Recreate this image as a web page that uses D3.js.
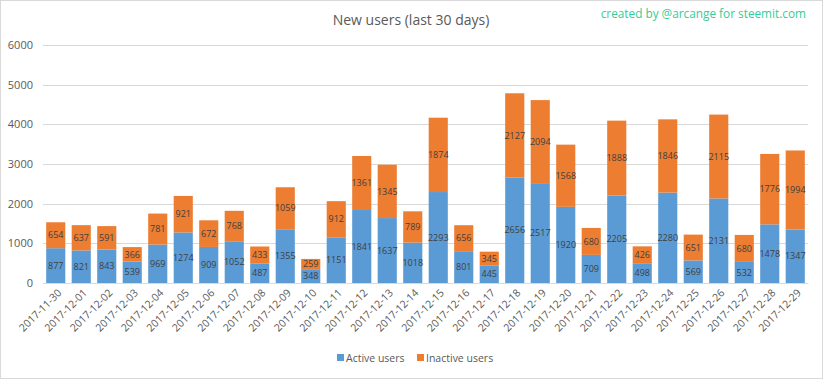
<!DOCTYPE html>
<html><head><meta charset="utf-8">
<script src="https://cdn.jsdelivr.net/npm/d3@7"></script>
<style>body{margin:0;background:#fff;font-family:"Open Sans",Calibri,sans-serif;}</style>
</head><body><svg id="c" width="823" height="379"></svg>
<script>
const dates = ["2017-11-30","2017-12-01","2017-12-02","2017-12-03","2017-12-04","2017-12-05","2017-12-06","2017-12-07","2017-12-08","2017-12-09","2017-12-10","2017-12-11","2017-12-12","2017-12-13","2017-12-14","2017-12-15","2017-12-16","2017-12-17","2017-12-18","2017-12-19","2017-12-20","2017-12-21","2017-12-22","2017-12-23","2017-12-24","2017-12-25","2017-12-26","2017-12-27","2017-12-28","2017-12-29"];
const active = [877,821,843,539,969,1274,909,1052,487,1355,348,1151,1841,1637,1018,2293,801,445,2656,2517,1920,709,2205,498,2280,569,2131,532,1478,1347];
const inactive = [654,637,591,366,781,921,672,768,433,1059,259,912,1361,1345,789,1874,656,345,2127,2094,1568,680,1888,426,1846,651,2115,680,1776,1994];
const yTicks = [0,1000,2000,3000,4000,5000,6000];
const seriesNames = ["Active users","Inactive users"];
const colors = ["#5b9bd5","#ed7d31"];

const svg = d3.select("#c");
svg.append("rect").attr("x",0.5).attr("y",0.5).attr("width",822).attr("height",378).attr("fill","#fff").attr("stroke","#d9d9d9");

const x = d3.scaleBand().domain(dates).range([43,808]).paddingInner(0.25).paddingOuter(0.125);
const y = d3.scaleLinear().domain([0,6000]).range([283,45]);

svg.append("g").selectAll("line").data(yTicks).join("line")
  .attr("x1",43).attr("x2",808).attr("y1",d=>Math.round(y(d))+0.5).attr("y2",d=>Math.round(y(d))+0.5)
  .attr("stroke","#d9d9d9").attr("stroke-width",1);

const yAxis = d3.axisLeft(y).tickValues(yTicks).tickSize(0).tickPadding(0).tickFormat(d3.format("d"));
const ya = svg.append("g").attr("transform","translate(33,0)").call(yAxis);
ya.select(".domain").remove();
ya.selectAll("text").attr("fill","#595959").style("font-size","11px").style("font-family","'Open Sans',sans-serif");

const data = dates.map((d,i)=>({date:d, a:active[i], b:inactive[i]}));
const stack = d3.stack().keys(["a","b"])(data);

const g = svg.append("g");
stack.forEach((s,si)=>{
  g.append("g").selectAll("rect").data(s).join("rect")
    .attr("x",d=>x(d.data.date)).attr("width",x.bandwidth())
    .attr("y",d=>y(d[1])).attr("height",d=>y(d[0])-y(d[1]))
    .attr("fill",colors[si]);
  g.append("g").selectAll("text").data(s).join("text")
    .attr("x",d=>x(d.data.date)+x.bandwidth()/2)
    .attr("y",d=>(y(d[0])+y(d[1]))/2)
    .attr("dy","0.35em").attr("text-anchor","middle")
    .attr("fill","#404040").style("font-size","9px").style("font-family","'Open Sans',sans-serif")
    .text(d=>d[1]-d[0]);
});

const xAxis = d3.axisBottom(x).tickSize(0).tickPadding(0);
const xa = svg.append("g").attr("transform","translate(0,283)").call(xAxis);
xa.select(".domain").attr("stroke","#d9d9d9");
xa.selectAll("text")
  .attr("fill","#595959").style("font-size","10.5px").style("font-family","'Open Sans',sans-serif")
  .attr("text-anchor","end").attr("dy","0.35em")
  .attr("transform","translate(4,8) rotate(-45)");

svg.append("text").attr("x",411).attr("y",25).attr("text-anchor","middle")
  .attr("fill","#595959").style("font-size","14px").style("font-family","'Open Sans',sans-serif")
  .text("New users (last 30 days)");
svg.append("text").attr("x",806).attr("y",18).attr("text-anchor","end")
  .attr("fill","#33cc99").style("font-size","11.8px").style("font-family","'Open Sans',sans-serif")
  .text("created by @arcange for steemit.com");

const lg = svg.append("g");
const lx = [337,417];
seriesNames.forEach((n,i)=>{
  lg.append("rect").attr("x",lx[i]).attr("y",354).attr("width",7).attr("height",7).attr("fill",colors[i]);
  lg.append("text").attr("x",lx[i]+9).attr("y",358).attr("dy","0.35em")
    .attr("fill","#595959").style("font-size","10.5px").style("font-family","'Open Sans',sans-serif").text(n);
});
</script></body></html>
